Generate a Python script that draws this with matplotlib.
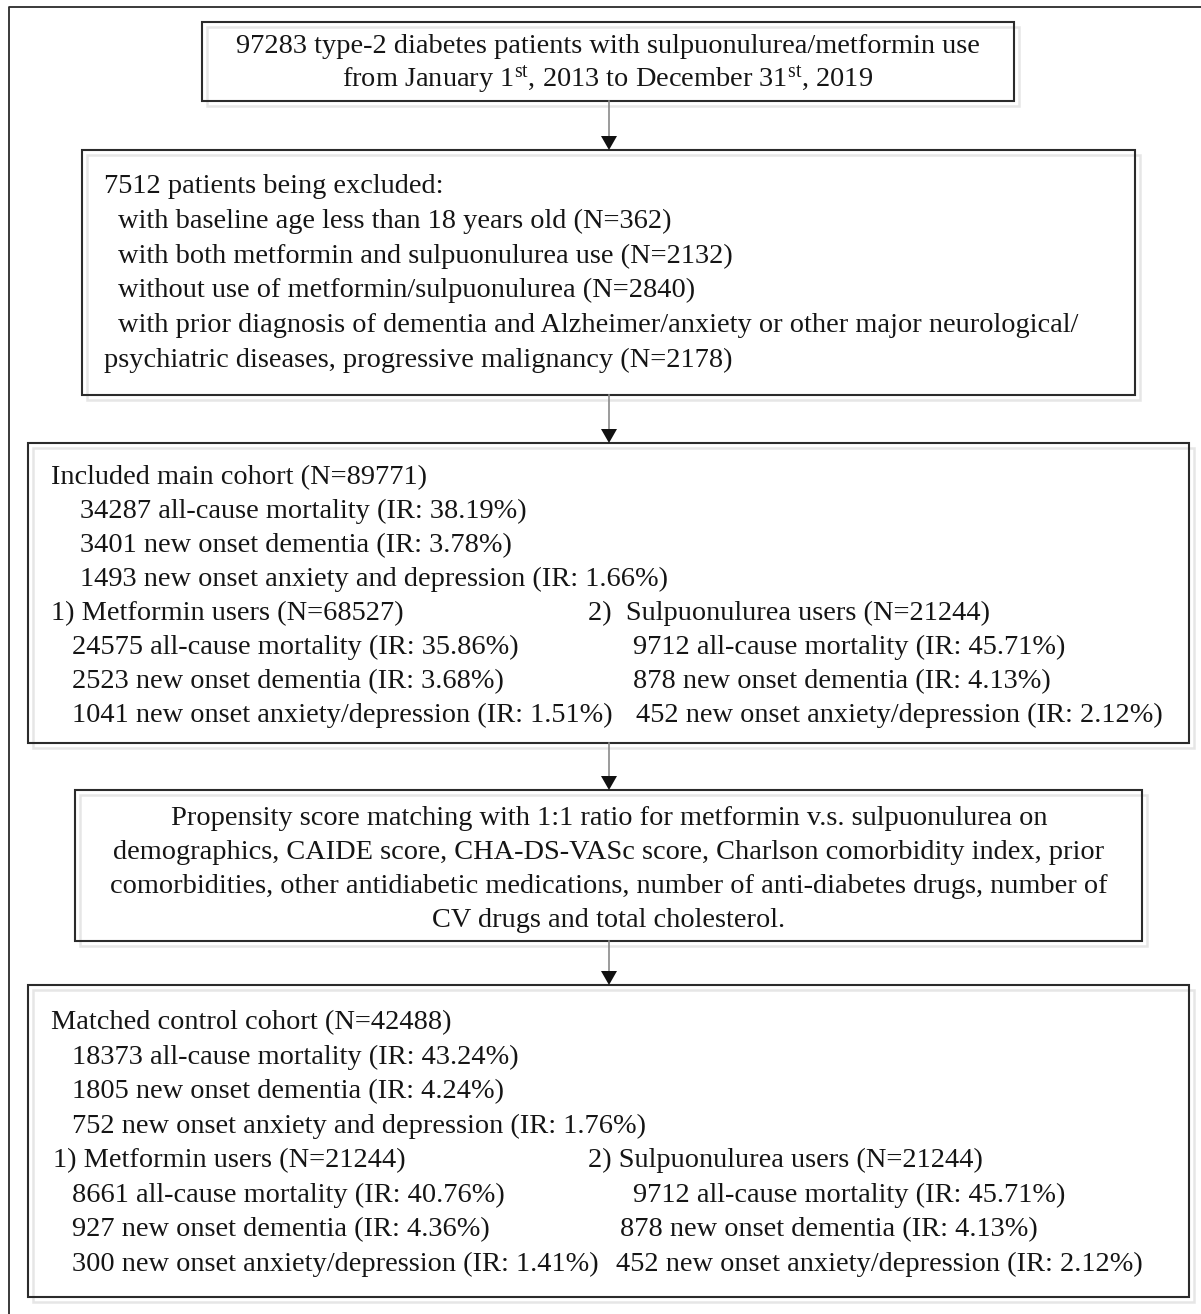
import matplotlib
matplotlib.use("Agg")
import matplotlib.pyplot as plt
from matplotlib.patches import Rectangle, Polygon

plt.rcParams['font.family'] = ['Liberation Serif', 'DejaVu Serif']
plt.rcParams['mathtext.fontset'] = 'custom'
plt.rcParams['mathtext.rm'] = 'Liberation Serif'
plt.rcParams['mathtext.it'] = 'Liberation Serif:italic'
plt.rcParams['mathtext.bf'] = 'Liberation Serif:bold'

FS = 20.4
DY = 2.5  # vertical text nudge

# ---- data (text content) ----
box1_lines = [
    "97283 type-2 diabetes patients with sulpuonulurea/metformin use",
    r"from January 1$^{\mathrm{st}}$, 2013 to December 31$^{\mathrm{st}}$, 2019",
]
box2_header = "7512 patients being excluded:"
box2_items = [
    "with baseline age less than 18 years old (N=362)",
    "with both metformin and sulpuonulurea use (N=2132)",
    "without use of metformin/sulpuonulurea (N=2840)",
    "with prior diagnosis of dementia and Alzheimer/anxiety or other major neurological/",
]
box2_tail = "psychiatric diseases, progressive malignancy (N=2178)"

main_header = "Included main cohort (N=89771)"
main_items = [
    "34287 all-cause mortality (IR: 38.19%)",
    "3401 new onset dementia (IR: 3.78%)",
    "1493 new onset anxiety and depression (IR: 1.66%)",
]
main_met_header = "1) Metformin users (N=68527)"
main_met = [
    "24575 all-cause mortality (IR: 35.86%)",
    "2523 new onset dementia (IR: 3.68%)",
    "1041 new onset anxiety/depression (IR: 1.51%)",
]
main_su_header = "2)  Sulpuonulurea users (N=21244)"
main_su = [
    "9712 all-cause mortality (IR: 45.71%)",
    "878 new onset dementia (IR: 4.13%)",
    "452 new onset anxiety/depression (IR: 2.12%)",
]

psm_lines = [
    "Propensity score matching with 1:1 ratio for metformin v.s. sulpuonulurea on",
    "demographics, CAIDE score, CHA-DS-VASc score, Charlson comorbidity index, prior",
    "comorbidities, other antidiabetic medications, number of anti-diabetes drugs, number of",
    "CV drugs and total cholesterol.",
]

match_header = "Matched control cohort (N=42488)"
match_items = [
    "18373 all-cause mortality (IR: 43.24%)",
    "1805 new onset dementia (IR: 4.24%)",
    "752 new onset anxiety and depression (IR: 1.76%)",
]
match_met_header = "1) Metformin users (N=21244)"
match_met = [
    "8661 all-cause mortality (IR: 40.76%)",
    "927 new onset dementia (IR: 4.36%)",
    "300 new onset anxiety/depression (IR: 1.41%)",
]
match_su_header = "2) Sulpuonulurea users (N=21244)"
match_su = [
    "9712 all-cause mortality (IR: 45.71%)",
    "878 new onset dementia (IR: 4.13%)",
    "452 new onset anxiety/depression (IR: 2.12%)",
]

W, H = 1201, 1314
fig = plt.figure(figsize=(W / 100, H / 100), dpi=100)
ax = fig.add_axes([0, 0, 1, 1])
ax.set_xlim(0, W)
ax.set_ylim(H, 0)
ax.axis('off')

EDGE = '#2b2b2b'

# outer frame (only top and left visible)
ax.plot([8.5, 8.5, W + 5], [H + 5, 6.5, 6.5], color=EDGE, lw=1.3, solid_capstyle='butt')


def box(x0, y0, x1, y1):
    ax.add_patch(Rectangle((x0 + 5, y0 + 5), x1 - x0, y1 - y0, fill=False,
                           edgecolor='#e6e6e6', lw=1.8, zorder=1))
    ax.add_patch(Rectangle((x0, y0), x1 - x0, y1 - y0, fill=False,
                           edgecolor=EDGE, lw=1.5, zorder=2))


def arrow(x, y0, y1):
    ax.plot([x, x], [y0, y1 - 12], color='#8a8a8a', lw=1.2, zorder=3)
    ax.add_patch(Polygon([[x - 8, y1 - 14], [x + 8, y1 - 14], [x, y1]],
                         closed=True, facecolor='#111111', edgecolor='none', zorder=3))


def txt(x, y, s, ha='left'):
    ax.text(x, y + DY, s, ha=ha, va='center', fontsize=FS, color='#151515', zorder=4)


# box 1
box(202, 22, 1014, 101)
txt(608, 44, box1_lines[0], ha='center')
txt(608, 77, box1_lines[1], ha='center')
arrow(609, 101, 150)

# box 2
box(82, 150, 1135, 395)
txt(104, 184, box2_header)
for i, s in enumerate(box2_items):
    txt(118, 219 + i * 34.7, s)
txt(104, 358, box2_tail)
arrow(609, 395, 443)

# box 3
box(28, 443, 1189, 743)
step = 34
y = 475
txt(51, y, main_header)
for i, s in enumerate(main_items):
    txt(80, y + (i + 1) * step, s)
y2 = y + 4 * step
txt(51, y2, main_met_header)
txt(588, y2, main_su_header)
for i, s in enumerate(main_met):
    txt(72, y2 + (i + 1) * step, s)
su_x = [633, 633, 636]
for i, s in enumerate(main_su):
    txt(su_x[i], y2 + (i + 1) * step, s)
arrow(609, 743, 790)

# box 4
box(75, 790, 1142, 941)
for i, s in enumerate(psm_lines):
    txt(609, 816 + i * 34, s, ha='center')
arrow(609, 941, 985)

# box 5
box(28, 985, 1189, 1297)
y = 1020
step = 34.6
txt(51, y, match_header)
for i, s in enumerate(match_items):
    txt(72, y + (i + 1) * step, s)
y2 = y + 4 * step
txt(53, y2, match_met_header)
txt(588, y2, match_su_header)
for i, s in enumerate(match_met):
    txt(72, y2 + (i + 1) * step, s)
su_x2 = [633, 620, 616]
for i, s in enumerate(match_su):
    txt(su_x2[i], y2 + (i + 1) * step, s)

fig.savefig('out.png', dpi=100, facecolor='white')
